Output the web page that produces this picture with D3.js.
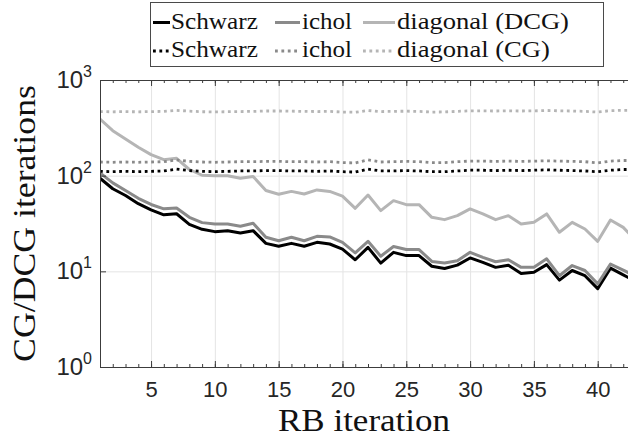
<!DOCTYPE html>
<html>
<head>
<meta charset="utf-8">
<script src="https://cdn.jsdelivr.net/npm/d3@7"></script>
<style>
  body { margin: 0; background: #fff; }
  svg { display: block; }
</style>
</head>
<body>
<svg id="chart" width="628" height="439"></svg>
<script>
// RB iteration index
const rbIteration = d3.range(1, 44);

// Deflated CG (DCG) iteration counts per preconditioner
const schwarzDCG = [94, 73, 62, 51, 44, 39, 40, 31, 27.5, 26, 26.6, 25.2, 26.6, 19.6, 18.3,
  19.6, 18.3, 20.1, 19.3, 17.1, 13.2, 17.8, 12.2, 15.8, 14.6, 14.6, 11.3, 10.7, 11.6, 13.8,
  12.4, 11.0, 11.6, 9.5, 9.8, 11.75, 8.1, 10.2, 9.0, 6.6, 10.8, 9.2, 7.8];
const icholDCG = [107, 84, 70, 58, 50, 45, 46, 36.7, 32.3, 31.3, 31.3, 29.6, 31.8, 22.7, 20.9,
  22.7, 20.9, 23.2, 22.9, 20.1, 15.6, 20.6, 14.4, 18.2, 16.9, 16.9, 12.7, 12.2, 12.9, 15.8,
  14.0, 12.6, 13.2, 11.0, 11.0, 13.5, 9.0, 11.5, 10.2, 7.4, 11.9, 10.3, 8.8];
const diagonalDCG = [391, 295, 242, 198, 166, 147, 152, 116, 101, 100, 100, 94, 98, 70, 64,
  68.5, 64.4, 71, 68.5, 61, 45.6, 62.8, 43.1, 54.8, 49.8, 49.8, 36.7, 34.7, 38.2, 44.9,
  39.8, 34.7, 38.2, 31.3, 32.5, 39.8, 25.6, 32.5, 27.7, 20.6, 34.4, 28.8, 21];

// Plain CG iteration counts per preconditioner
const schwarzCG = [111, 110, 111, 110, 111, 112, 117, 113, 111, 110, 111, 112, 112, 113, 113,
  112, 112, 111, 112, 110, 109, 117, 112, 112, 113, 112, 110, 110, 112, 114,
  114, 113, 114, 113, 114, 115, 114, 113, 112, 110, 114, 116, 116];
const icholCG = [139, 138, 139, 138, 139, 140, 146, 141, 139, 138, 139, 140, 140, 141, 141,
  140, 140, 139, 140, 137, 136, 146, 139, 140, 141, 140, 137, 137, 140, 142,
  142, 141, 142, 141, 142, 143, 142, 141, 140, 136, 142, 144, 144];
const diagonalCG = [467, 465, 467, 465, 467, 470, 482, 472, 466, 464, 466, 468, 470, 474, 474,
  472, 470, 468, 470, 462, 460, 480, 468, 470, 472, 470, 462, 464, 470, 476,
  476, 474, 476, 474, 476, 480, 476, 474, 470, 462, 478, 482, 482];

// Axis ticks
const xTickValues = [5, 10, 15, 20, 25, 30, 35, 40];
const yTickExponents = [0, 1, 2, 3];

// Legend entries (two rows of three)
const legendNames = ["Schwarz", "ichol", "diagonal (DCG)", "Schwarz", "ichol", "diagonal (CG)"];

const svg = d3.select("#chart");
const plot = { left: 100, right: 636, top: 80, bottom: 367 };

const x = d3.scaleLinear().domain([1, 43]).range([plot.left, plot.right]);
const y = d3.scaleLog().domain([1, 1000]).range([plot.bottom, plot.top]);

const axisColor = "#3c3c3c";
const gridColor = "#e4e4e4";
const col = { schwarz: "#000000", ichol: "#8a8a8a", diagonal: "#b5b5b5" };
const SERIF = "'Liberation Serif'";
const SANS = "'Liberation Sans'";

// Serif text widened horizontally to a target width (glyphs keep their height)
function wideText(parent, str, size, width, anchor) {
  const g = parent.append("g");
  const t = g.append("text")
    .style("font-family", SERIF).style("font-size", size + "px")
    .attr("fill", "#111").attr("text-anchor", anchor).text(str);
  const w = t.node().getComputedTextLength();
  t.attr("transform", `scale(${width / w},1)`);
  return g;
}

// grid
const grid = svg.append("g");
grid.append("g")
  .attr("transform", `translate(0,${plot.bottom})`)
  .call(d3.axisBottom(x).tickValues(xTickValues).tickSize(-(plot.bottom - plot.top)).tickFormat(""))
  .call(g => g.select(".domain").remove())
  .call(g => g.selectAll("line").attr("stroke", gridColor).attr("stroke-width", 1));
grid.append("g")
  .attr("transform", `translate(${plot.left},0)`)
  .call(d3.axisLeft(y).tickValues([10, 100]).tickSize(-(plot.right - plot.left)).tickFormat(""))
  .call(g => g.select(".domain").remove())
  .call(g => g.selectAll("line").attr("stroke", gridColor).attr("stroke-width", 1));

// series
const series = [
  { values: schwarzDCG, color: col.schwarz, dash: null },
  { values: icholDCG, color: col.ichol, dash: null },
  { values: diagonalDCG, color: col.diagonal, dash: null },
  { values: schwarzCG, color: col.schwarz, dash: "2.8,3.6" },
  { values: icholCG, color: col.ichol, dash: "2.8,3.6" },
  { values: diagonalCG, color: col.diagonal, dash: "2.8,3.6" }
];

svg.append("clipPath").attr("id", "clip")
  .append("rect").attr("x", plot.left).attr("y", plot.top)
  .attr("width", plot.right - plot.left).attr("height", plot.bottom - plot.top);

const line = d3.line().x((d, i) => x(rbIteration[i])).y(d => y(d));
const lines = svg.append("g").attr("clip-path", "url(#clip)");
series.forEach(s => {
  lines.append("path")
    .datum(s.values)
    .attr("d", line)
    .attr("fill", "none")
    .attr("stroke", s.color)
    .attr("stroke-width", s.dash ? 2.8 : 3)
    .attr("stroke-linejoin", "round")
    .attr("stroke-dasharray", s.dash);
});

// axes
const styleAxis = g => {
  g.select(".domain").attr("stroke", axisColor).attr("stroke-width", 1);
  g.selectAll(".tick line").attr("stroke", axisColor).attr("stroke-width", 1);
};

// bottom axis: major ticks with labels, minor ticks every iteration
svg.append("g")
  .attr("transform", `translate(0,${plot.bottom})`)
  .call(d3.axisBottom(x).tickValues(d3.range(1, 44)).tickSizeInner(-3).tickSizeOuter(0).tickFormat(""))
  .call(styleAxis);
svg.append("g")
  .attr("transform", `translate(0,${plot.bottom})`)
  .call(d3.axisBottom(x).tickValues(xTickValues).tickSizeInner(-6).tickSizeOuter(0).tickPadding(14))
  .call(styleAxis)
  .call(g => g.selectAll(".tick text")
    .style("font-family", SANS).style("font-size", "22px").attr("fill", "#262626"));

// top axis
svg.append("g")
  .attr("transform", `translate(0,${plot.top})`)
  .call(d3.axisTop(x).tickValues(d3.range(1, 44)).tickSizeInner(-3).tickSizeOuter(0).tickFormat(""))
  .call(styleAxis);
svg.append("g")
  .attr("transform", `translate(0,${plot.top})`)
  .call(d3.axisTop(x).tickValues(xTickValues).tickSizeInner(-6).tickSizeOuter(0).tickFormat(""))
  .call(styleAxis);

// left axis with power-of-ten labels
svg.append("g")
  .attr("transform", `translate(${plot.left},0)`)
  .call(d3.axisLeft(y).tickValues(yTickExponents.map(e => Math.pow(10, e)))
    .tickSizeInner(-6).tickSizeOuter(0).tickFormat(""))
  .call(styleAxis);

const yLabels = svg.append("g").attr("fill", "#262626");
yTickExponents.forEach(e => {
  const t = yLabels.append("text")
    .style("font-family", SANS)
    .attr("x", plot.left - 8)
    .attr("y", y(Math.pow(10, e)) + 8)
    .attr("text-anchor", "end");
  t.append("tspan").style("font-size", "24px").text("10");
  t.append("tspan").style("font-size", "16px").attr("dy", -11).text(String(e));
});

// axis titles
wideText(svg, "RB iteration", 31, 172, "middle")
  .attr("transform", "translate(364,431)");
wideText(svg, "CG/DCG iterations", 31, 277, "middle")
  .attr("transform", `translate(35,${(plot.top + plot.bottom) / 2}) rotate(-90)`);

// legend
const legend = svg.append("g");
legend.append("rect")
  .attr("x", 150.5).attr("y", 2.5).attr("width", 453).attr("height", 64)
  .attr("fill", "#fff").attr("stroke", "#4a4a4a").attr("stroke-width", 1);

const sampleX = [[153, 170], [275, 300], [363, 395]];
const textX = [171, 302, 397];
const textW = [87, 50, 172, 87, 50, 153];
const rowBase = [28.5, 57];
series.forEach((s, k) => {
  const c = k % 3, r = Math.floor(k / 3);
  legend.append("line")
    .attr("x1", sampleX[c][0]).attr("x2", sampleX[c][1])
    .attr("y1", rowBase[r] - 6).attr("y2", rowBase[r] - 6)
    .attr("stroke", s.color).attr("stroke-width", s.dash ? 2.8 : 3)
    .attr("stroke-dasharray", s.dash);
  wideText(legend, legendNames[k], 24, textW[k], "start")
    .attr("transform", `translate(${textX[c]},${rowBase[r]})`);
});
</script>
</body>
</html>
